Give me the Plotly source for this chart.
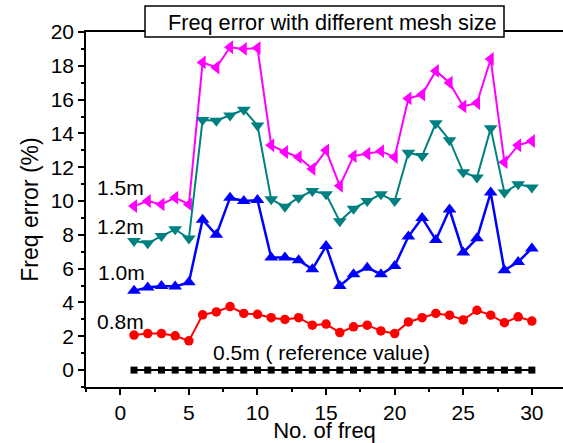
import plotly.graph_objects as go

freq_no = list(range(1, 31))

err_15m = [9.7, 10.0, 9.8, 10.2, 9.8, 18.2, 17.9, 19.1, 19.0, 19.05,
           13.3, 12.9, 12.6, 11.9, 13.0, 10.9, 12.66, 12.8, 12.95, 12.6,
           16.07, 16.3, 17.7, 17.0, 15.6, 15.8, 18.4, 12.3, 13.3, 13.55]
err_12m = [7.64, 7.5, 7.93, 8.33, 7.78, 14.8, 14.75, 15.06, 15.4, 14.47,
           10.1, 9.67, 10.2, 10.6, 10.4, 8.8, 9.55, 10.0, 10.4, 10.0,
           12.86, 12.66, 14.6, 13.6, 11.7, 11.4, 14.3, 10.5, 11.0, 10.8]
err_10m = [4.7, 4.88, 4.98, 4.94, 5.2, 8.9, 8.0, 10.2, 10.0, 10.06,
           6.66, 6.66, 6.5, 5.96, 7.34, 4.98, 5.67, 6.06, 5.67, 6.16,
           7.9, 9.0, 7.7, 9.5, 6.95, 7.8, 10.5, 5.9, 6.4, 7.2]
err_08m = [2.07, 2.16, 2.16, 2.03, 1.73, 3.27, 3.44, 3.76, 3.35, 3.3,
           3.1, 3.0, 3.1, 2.66, 2.72, 2.22, 2.56, 2.66, 2.32, 2.16,
           2.85, 3.1, 3.35, 3.25, 2.97, 3.54, 3.25, 2.8, 3.15, 2.9]
err_05m = [0.0] * 30

series_names = ["1.5m", "1.2m", "1.0m", "0.8m", "0.5m"]
y_ticks = list(range(0, 21, 2))
x_ticks = list(range(0, 31, 5))

FONT = "Liberation Sans, Arial, sans-serif"

fig = go.Figure()
styles = [
    (err_15m, "#FF00FF", "triangle-left", 12, 2),
    (err_12m, "#008080", "triangle-down", 12, 2),
    (err_10m, "#0000FF", "triangle-up", 12, 2.5),
    (err_08m, "#FF0000", "circle", 9.5, 2),
    (err_05m, "#000000", "square", 7, 2),
]
for name, (vals, col, sym, ms, lw) in zip(series_names, styles):
    fig.add_trace(go.Scatter(
        x=freq_no, y=vals, mode="lines+markers", name=name,
        line=dict(color=col, width=lw),
        marker=dict(symbol=sym, size=ms, color=col, line=dict(width=0)),
        cliponaxis=False,
    ))

label_font = dict(family=FONT, size=21, color="black")
labels = [("1.5m", 0.0, 10.8), ("1.2m", 0.0, 8.5), ("1.0m", 0.1, 5.75),
          ("0.8m", 0.0, 2.9), ("0.5m ( reference value)", 14.65, 1.06)]
for txt, lx, ly in labels:
    fig.add_annotation(x=lx, y=ly, xref="x", yref="y", text=txt,
                       showarrow=False, font=label_font)

# title box
fig.add_shape(type="rect", xref="paper", yref="paper",
              x0=0.1237, x1=0.8763, y0=0.9859, y1=1.0732,
              fillcolor="white", line=dict(color="black", width=1.5),
              layer="above")
fig.add_annotation(x=0.5168, y=1.0268, xref="paper", yref="paper",
                   xanchor="center", yanchor="middle",
                   text="Freq error with different mesh size", showarrow=False,
                   font=dict(family=FONT, size=21.7, color="black"))

fig.update_layout(
    width=563, height=443,
    margin=dict(l=86, r=0, t=32, b=56, autoexpand=False),
    paper_bgcolor="white", plot_bgcolor="white",
    showlegend=False,
    font=dict(family=FONT, size=21, color="black"),
)
fig.update_xaxes(
    range=[-2.5, 32.27], tickvals=x_ticks, ticks="outside", ticklen=6,
    tickwidth=1.5, tickcolor="black", showline=True, linecolor="black",
    linewidth=1.5, mirror=True, showgrid=False, zeroline=False,
    automargin=False,
    tickfont=dict(family=FONT, size=21, color="black"),
    minor=dict(dtick=2.5, tick0=0, ticks="outside", ticklen=3, tickcolor="black", tickwidth=1.5, showgrid=False),
    title=dict(text="No. of freq", font=dict(family=FONT, size=22, color="black"), standoff=0),
)
fig.update_yaxes(
    range=[-1, 20], tickvals=y_ticks, ticks="outside", ticklen=6,
    tickwidth=1.5, tickcolor="black", showline=True, linecolor="black",
    linewidth=1.5, showgrid=False, zeroline=False,
    automargin=False,
    tickfont=dict(family=FONT, size=21, color="black"),
    minor=dict(dtick=1, tick0=0, ticks="outside", ticklen=3, tickcolor="black", tickwidth=1.5, showgrid=False),
    title=dict(text="Freq error (%)", font=dict(family=FONT, size=23, color="black"), standoff=6),
)

fig.write_html(
    "out.html",
    config={"displayModeBar": False},
    post_script="document.body.style.margin='0';document.body.style.padding='0';document.body.style.overflow='hidden';",
)
